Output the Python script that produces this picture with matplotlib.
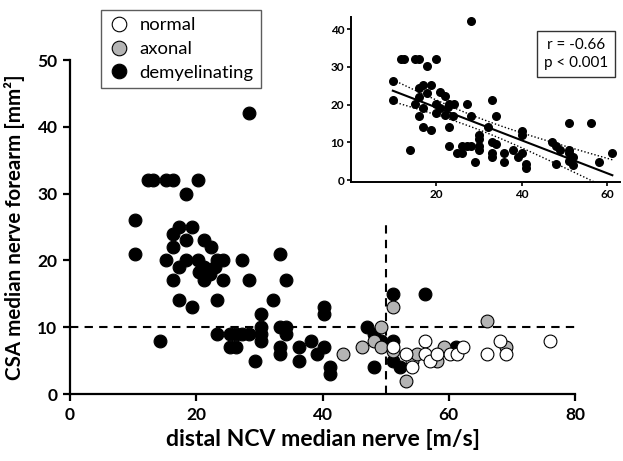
import numpy as np
import matplotlib
matplotlib.use('Agg')
import matplotlib.pyplot as plt
from matplotlib.lines import Line2D

plt.rcParams['font.family'] = ['Lato', 'DejaVu Sans']

# main plot data: distal NCV [m/s], CSA [mm2]
demy_x = [12.3, 13.2, 15.2, 16.3, 20.3, 18.3, 28.3,
          10.3, 10.3,
          17.2, 19.3, 16.3, 18.3, 21.3, 22.3, 16.3,
          15.2, 18.3, 20.3, 23.3, 24.3, 27.2,
          17.2, 21.3, 23.0, 20.4, 22.2, 16.3, 21.3, 24.2, 28.3, 34.2,
          17.2, 19.3, 23.3, 32.2, 33.2,
          14.3, 23.3, 25.3, 26.3, 25.3, 26.3, 27.2, 28.3, 29.3,
          30.2, 30.2, 30.2, 30.2,
          33.2, 34.2, 34.2, 33.2, 33.2, 36.2, 36.2, 38.1, 39.2, 40.2, 40.2, 40.2, 41.2, 41.2,
          47.1, 48.1, 48.1, 51.2, 56.2, 51.2, 51.2, 52.3, 61.1, 49.2]
demy_y = [32, 32, 32, 32, 32, 30, 42,
          26, 21,
          25, 25, 24, 23, 23, 22, 22,
          20, 20, 20, 20, 20, 20,
          19, 19, 19, 18.3, 18, 17, 17, 17, 17, 17,
          14, 13, 14, 14, 21,
          8, 9, 7, 7, 9, 9, 9, 9, 5,
          12, 10, 9, 8,
          10, 10, 9, 7, 6, 7, 5, 8, 6, 7, 13, 12, 4, 3,
          10, 9, 4, 15, 15, 8, 5, 4, 7, 8]

axon_x = [43.3, 46.2, 49.2, 48.1, 49.2, 51.2, 51.2, 53.2, 54.2, 55.0, 58.2, 59.2, 66.1, 69.0]
axon_y = [6, 7, 10, 8, 7, 13, 6.5, 2, 5, 6, 5, 7, 11, 7]

norm_x = [51.2, 53.2, 54.2, 56.2, 56.2, 57.1, 58.2, 60.2, 61.3, 62.2, 66.1, 68.1, 69.0, 76.1]
norm_y = [7, 6, 4, 8, 6, 5, 6, 6, 6, 7, 6, 8, 6, 8]

# inset data
ins_x = [28.0, 11.8, 12.5, 14.9, 15.9, 20.0, 17.9, 9.8, 9.8,
         16.8, 18.8, 15.9, 20.9, 22.0, 15.9, 14.9, 17.9, 20.0, 23.0, 24.1, 27.1,
         16.8, 20.9, 22.7, 20.0, 22.0, 15.9, 23.9, 28.0, 34.0,
         16.8, 18.8, 23.0, 32.0, 33.0,
         13.9, 23.0, 24.9, 25.9, 25.9, 27.1, 28.0, 29.0,
         30.0, 30.0, 30.0, 30.0,
         33.0, 34.0, 33.0, 33.0, 35.9, 35.9, 37.9, 39.0, 40.0, 40.0, 40.0, 41.0, 41.0,
         47.0, 48.1, 49.0, 48.1, 51.1, 56.1, 51.1, 51.1, 51.1, 52.1, 52.1, 58.1, 61.2]
ins_y = [42.2, 32.2, 32.2, 32.2, 32.2, 32.2, 30.2, 26.2, 21.2,
         25.2, 25.2, 24.3, 23.4, 22.3, 21.9, 20.3, 23.0, 20.3, 20.3, 20.3, 20.3,
         19.2, 19.0, 19.4, 17.7, 17.2, 17.0, 17.0, 17.0, 17.0,
         14.1, 13.2, 14.1, 14.1, 21.2,
         7.9, 9.0, 7.1, 7.1, 9.0, 9.0, 9.0, 4.9,
         11.9, 10.8, 9.0, 8.0,
         10.1, 9.7, 7.1, 6.2, 7.1, 4.9, 7.9, 6.2, 7.1, 13.1, 11.9, 4.4, 3.1,
         10.1, 9.0, 7.9, 4.4, 15.2, 15.2, 7.9, 7.1, 5.1, 4.1, 6.2, 4.9, 7.1]

fig = plt.figure(figsize=(6.23, 4.61), dpi=100)
ax = fig.add_axes([0.1124, 0.1453, 0.8106, 0.7245])

ms = 85
ax.scatter(demy_x, demy_y, s=ms, c='black', edgecolors='black', linewidths=0.8, zorder=3)
ax.scatter(axon_x, axon_y, s=ms, c='#b4b4b4', edgecolors='black', linewidths=0.8, zorder=3)
ax.scatter(norm_x, norm_y, s=ms, c='white', edgecolors='black', linewidths=0.8, zorder=3)

ax.axhline(10, color='black', lw=1.5, ls=(0, (4, 3)), zorder=2)
ax.plot([50, 50], [0, 25.8], color='black', lw=1.5, ls=(0, (4, 3)), zorder=2, clip_on=False)

ax.set_xlim(0, 80)
ax.set_ylim(0, 50)
ax.set_xticks([0, 20, 40, 60, 80])
ax.set_yticks([0, 10, 20, 30, 40, 50])
for s in ['top', 'right']:
    ax.spines[s].set_visible(False)
for s in ['left', 'bottom']:
    ax.spines[s].set_linewidth(1.6)
ax.tick_params(width=1.6, length=5, labelsize=12.5, pad=4)
for lab in ax.get_xticklabels() + ax.get_yticklabels():
    lab.set_fontweight('bold')
ax.set_xlabel('distal NCV median nerve [m/s]', fontsize=16.6, fontweight='bold', labelpad=5)
ax.set_ylabel('CSA median nerve forearm [mm²]', fontsize=14.8, fontweight='bold', labelpad=9)

handles = [Line2D([], [], marker='o', ls='', markersize=10.5, markerfacecolor=c,
                  markeredgecolor='black', markeredgewidth=0.8)
           for c in ['white', '#b4b4b4', 'black']]
leg = ax.legend(handles, ['normal', 'axonal', 'demyelinating'], loc='upper left',
                bbox_to_anchor=(0.061, 1.15), frameon=True, fancybox=False,
                edgecolor='#333333', fontsize=13.3, handletextpad=0.5,
                borderpad=0.4, labelspacing=0.42, handlelength=1.2, borderaxespad=0)
leg.get_frame().set_linewidth(1.0)

# inset
ins = fig.add_axes([0.5634, 0.6059, 0.4318, 0.3579])
ins.scatter(ins_x, ins_y, s=30, c='black', zorder=3)
xa = np.array(ins_x)
ya = np.array(ins_y)
b, a = np.polyfit(xa, ya, 1)
xs = np.linspace(xa.min(), xa.max(), 100)
yfit = a + b * xs
n = len(xa)
resid = ya - (a + b * xa)
sres = np.sqrt(np.sum(resid ** 2) / (n - 2))
sxx = np.sum((xa - xa.mean()) ** 2)
band = 1.99 * sres * np.sqrt(1 / n + (xs - xa.mean()) ** 2 / sxx)
ins.plot(xs, yfit, color='black', lw=1.5, zorder=2)
ins.plot(xs, yfit + band, color='black', lw=1.0, ls=(0, (1, 1.5)), zorder=2)
ins.plot(xs, yfit - band, color='black', lw=1.0, ls=(0, (1, 1.5)), zorder=2)
ins.set_xlim(0, 63)
ins.set_ylim(-0.4, 43.3)
ins.set_xticks([20, 40, 60])
ins.set_yticks([0, 10, 20, 30, 40])
for s in ['top', 'right']:
    ins.spines[s].set_visible(False)
for s in ['left', 'bottom']:
    ins.spines[s].set_linewidth(1.4)
ins.tick_params(width=1.2, length=3, labelsize=8.5, pad=2)
for lab in ins.get_xticklabels() + ins.get_yticklabels():
    lab.set_fontweight('bold')
ins.text(0.836, 0.774, 'r = -0.66\np < 0.001', transform=ins.transAxes, fontsize=11,
         ha='center', va='center', linespacing=1.35,
         bbox=dict(boxstyle='square,pad=0.45', facecolor='white', edgecolor='#333333', linewidth=1.0))

fig.savefig('out.png', dpi=100)
